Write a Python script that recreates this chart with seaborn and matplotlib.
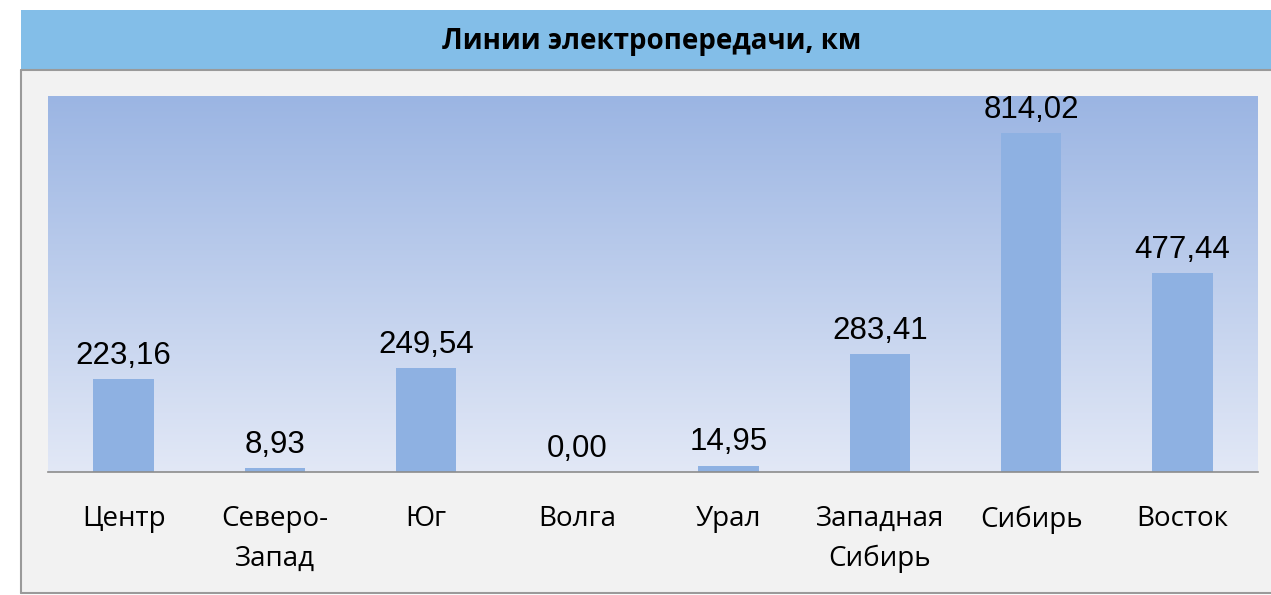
import matplotlib.pyplot as plt
import numpy as np
import pandas as pd
import seaborn as sns
from matplotlib.patches import Rectangle
from matplotlib.lines import Line2D

TITLE = "Линии электропередачи, км"
regions = ["Центр", "Северо-\nЗапад", "Юг", "Волга", "Урал",
           "Западная\nСибирь", "Сибирь", "Восток"]
lengths_km = [223.16, 8.93, 249.54, 0.00, 14.95, 283.41, 814.02, 477.44]

BAR_COLOR = "#8EB1E2"
HEADER_COLOR = "#83BEE8"
PANEL_COLOR = "#F2F2F2"
BORDER_COLOR = "#9A9A9A"


def main() -> None:
    sns.set_style("white")
    plt.rcParams["font.family"] = ["Liberation Sans", "DejaVu Sans"]

    df = pd.DataFrame({"region": regions, "km": lengths_km})

    fig = plt.figure(figsize=(12.71, 5.95), dpi=100)
    fig.patch.set_facecolor("white")

    # grey panel + header band
    fig.add_artist(Rectangle((21 / 1271, 2 / 595), 1, 523 / 595,
                             transform=fig.transFigure, facecolor=PANEL_COLOR,
                             edgecolor="none", zorder=0))
    fig.add_artist(Rectangle((21 / 1271, 525 / 595), 1, 60 / 595,
                             transform=fig.transFigure, facecolor=HEADER_COLOR,
                             edgecolor="none", zorder=0))
    for xs, ys in [((21, 1271), (525, 525)), ((21, 21), (2, 525)),
                   ((21, 1271), (2, 2))]:
        fig.add_artist(Line2D(np.array(xs) / 1271, np.array(ys) / 595,
                              transform=fig.transFigure, color=BORDER_COLOR,
                              linewidth=1.5, zorder=1))
    fig.text(652 / 1271, 553 / 595, TITLE, ha="center", va="center",
             fontsize=20, fontweight="bold", color="black",
             family=["Open Sans", "DejaVu Sans"])

    ax = fig.add_axes((48 / 1271, 123 / 595, 1210 / 1271, 376 / 595))
    ax.set_facecolor("none")

    sns.barplot(data=df, x="region", y="km", color=BAR_COLOR, width=0.4,
                saturation=1, linewidth=0, ax=ax, zorder=2)
    ax.set_xlim(-0.5, len(regions) - 0.5)
    ax.set_ylim(0, 903)

    # vertical gradient background
    grad = np.linspace(0, 1, 256).reshape(-1, 1)
    top = np.array([0x9B, 0xB5, 0xE3]) / 255
    bottom = np.array([0xE2, 0xE8, 0xF6]) / 255
    img = bottom + (top - bottom) * grad
    ax.imshow(img.reshape(256, 1, 3), origin="lower", aspect="auto",
              extent=(-0.5, len(regions) - 0.5, 0, 903), zorder=0)

    labels = [f"{v:.2f}".replace(".", ",") for v in lengths_km]
    ax.bar_label(ax.containers[0], labels=labels, padding=6, fontsize=22.5,
                 color="black")

    for side in ["top", "right", "left"]:
        ax.spines[side].set_visible(False)
    ax.spines["bottom"].set_color("#8C8C8C")
    ax.spines["bottom"].set_linewidth(1.2)
    ax.set_yticks([])
    ax.set_xlabel("")
    ax.set_ylabel("")
    ax.tick_params(axis="x", length=0, pad=24)
    for t in ax.get_xticklabels():
        t.set_fontsize(20)
        t.set_family(["Open Sans", "DejaVu Sans"])
        t.set_linespacing(1.55)
        t.set_color("black")

    fig.savefig("out.png", dpi=100)


if __name__ == "__main__":
    main()
